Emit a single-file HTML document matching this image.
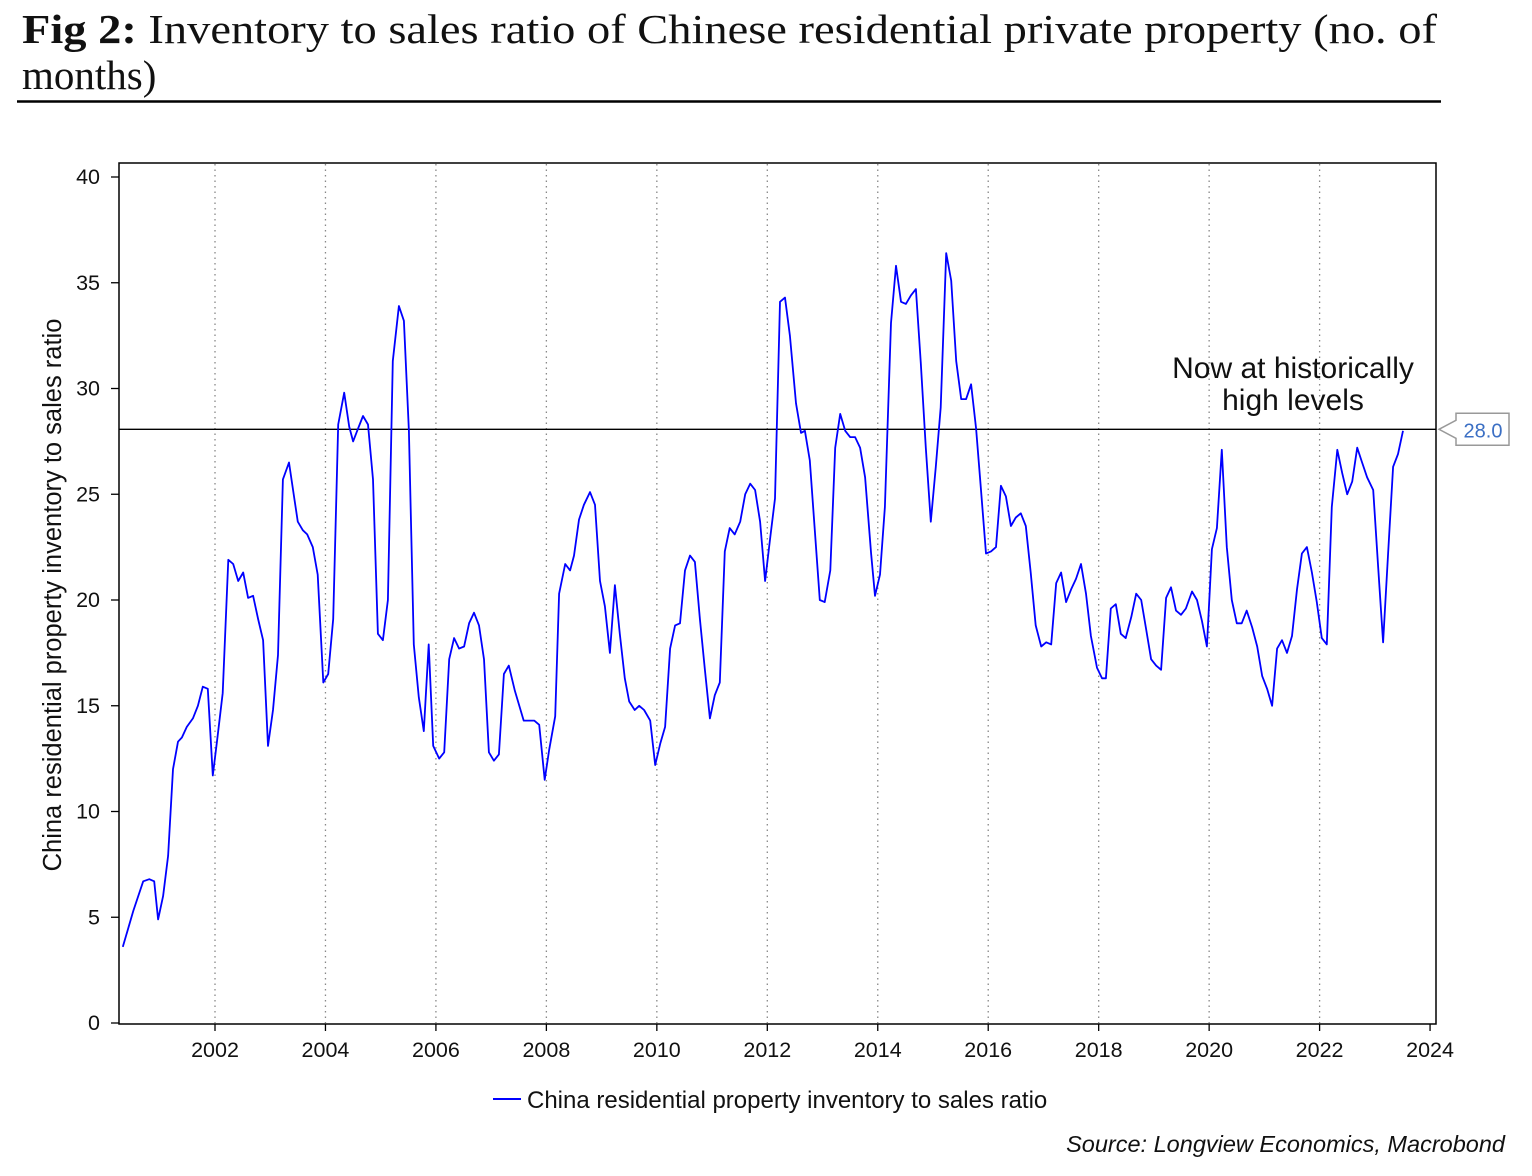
<!DOCTYPE html>
<html><head><meta charset="utf-8"><style>
html,body{margin:0;padding:0;background:#fff;}
svg{display:block;}
</style></head><body>
<svg id="chart" width="1532" height="1176" viewBox="0 0 1532 1176" xmlns="http://www.w3.org/2000/svg">
<text x="22" y="43" font-family="Liberation Serif, serif" font-size="41" fill="#111" textLength="1415" lengthAdjust="spacingAndGlyphs"><tspan font-weight="bold">Fig 2:</tspan> Inventory to sales ratio of Chinese residential private property (no. of</text>
<text x="22" y="89" font-family="Liberation Serif, serif" font-size="41" fill="#111">months)</text>
<line x1="17" y1="101.5" x2="1441" y2="101.5" stroke="#000" stroke-width="2.5"/>
<g id="grid"></g>
<rect x="119" y="163" width="1317" height="861" fill="none" stroke="#000" stroke-width="1.5"/>
<g id="axes"></g>
<line id="refline" stroke="#000" stroke-width="1.3"/>
<path id="series" fill="none" stroke="#0000ff" stroke-width="1.8" stroke-linejoin="round"/>
<text x="1293" y="378" text-anchor="middle" font-family="Liberation Sans, sans-serif" font-size="30" fill="#111">Now at historically</text>
<text x="1293" y="410" text-anchor="middle" font-family="Liberation Sans, sans-serif" font-size="30" fill="#111">high levels</text>
<g id="lastlabel"></g>
<text transform="translate(61,595) rotate(-90)" text-anchor="middle" font-family="Liberation Sans, sans-serif" font-size="25.5" fill="#111">China residential property inventory to sales ratio</text>
<line x1="493" y1="1099" x2="521" y2="1099" stroke="#0000ff" stroke-width="2"/>
<text x="527" y="1108" font-family="Liberation Sans, sans-serif" font-size="24" fill="#111">China residential property inventory to sales ratio</text>
<text x="1505" y="1152" text-anchor="end" font-family="Liberation Sans, sans-serif" font-size="23.5" font-style="italic" fill="#111">Source: Longview Economics, Macrobond</text>
</svg>
<script>
const dates=[2000.33,2000.52,2000.70,2000.81,2000.90,2000.97,2001.06,2001.15,2001.24,2001.33,2001.40,2001.49,2001.60,2001.69,2001.78,2001.87,2001.96,2002.04,2002.14,2002.24,2002.33,2002.42,2002.51,2002.60,2002.69,2002.78,2002.87,2002.96,2003.05,2003.14,2003.23,2003.34,2003.43,2003.50,2003.59,2003.67,2003.77,2003.86,2003.96,2004.05,2004.14,2004.23,2004.34,2004.43,2004.50,2004.59,2004.68,2004.77,2004.86,2004.95,2005.04,2005.13,2005.22,2005.33,2005.42,2005.51,2005.60,2005.69,2005.78,2005.87,2005.95,2006.06,2006.15,2006.24,2006.33,2006.42,2006.51,2006.60,2006.69,2006.78,2006.87,2006.96,2007.05,2007.14,2007.23,2007.32,2007.43,2007.59,2007.78,2007.87,2007.97,2008.05,2008.16,2008.23,2008.34,2008.43,2008.50,2008.59,2008.68,2008.79,2008.88,2008.97,2009.06,2009.15,2009.24,2009.33,2009.42,2009.50,2009.60,2009.68,2009.77,2009.88,2009.97,2010.06,2010.15,2010.24,2010.33,2010.42,2010.51,2010.60,2010.69,2010.78,2010.87,2010.96,2011.05,2011.14,2011.23,2011.32,2011.41,2011.51,2011.60,2011.69,2011.78,2011.87,2011.96,2012.05,2012.14,2012.23,2012.32,2012.41,2012.52,2012.61,2012.68,2012.77,2012.86,2012.95,2013.04,2013.14,2013.23,2013.32,2013.41,2013.50,2013.59,2013.68,2013.77,2013.88,2013.95,2014.04,2014.13,2014.24,2014.33,2014.42,2014.51,2014.60,2014.69,2014.78,2014.87,2014.96,2015.05,2015.14,2015.24,2015.33,2015.42,2015.51,2015.60,2015.69,2015.78,2015.87,2015.96,2016.05,2016.14,2016.23,2016.32,2016.41,2016.50,2016.59,2016.68,2016.77,2016.86,2016.96,2017.05,2017.14,2017.23,2017.32,2017.41,2017.50,2017.59,2017.68,2017.77,2017.86,2017.97,2018.06,2018.13,2018.22,2018.31,2018.40,2018.49,2018.59,2018.68,2018.77,2018.86,2018.95,2019.04,2019.13,2019.22,2019.31,2019.40,2019.49,2019.58,2019.69,2019.78,2019.87,2019.96,2020.05,2020.14,2020.23,2020.32,2020.41,2020.50,2020.59,2020.68,2020.78,2020.87,2020.96,2021.05,2021.14,2021.23,2021.32,2021.41,2021.50,2021.59,2021.68,2021.77,2021.86,2021.95,2022.04,2022.13,2022.22,2022.32,2022.41,2022.50,2022.59,2022.68,2022.77,2022.86,2022.97,2023.06,2023.15,2023.24,2023.33,2023.42,2023.51];
const values=[3.6,5.3,6.7,6.8,6.7,4.9,6.0,7.9,12.0,13.3,13.5,14.0,14.4,15.0,15.9,15.8,11.7,13.4,15.6,21.9,21.7,20.9,21.3,20.1,20.2,19.1,18.1,13.1,14.8,17.4,25.7,26.5,24.9,23.7,23.3,23.1,22.5,21.2,16.1,16.5,19.1,28.3,29.8,28.2,27.5,28.1,28.7,28.3,25.7,18.4,18.1,20.0,31.3,33.9,33.2,28.0,17.9,15.4,13.8,17.9,13.1,12.5,12.8,17.2,18.2,17.7,17.8,18.9,19.4,18.8,17.2,12.8,12.4,12.7,16.5,16.9,15.7,14.3,14.3,14.1,11.5,12.9,14.5,20.3,21.7,21.4,22.1,23.8,24.5,25.1,24.5,20.9,19.7,17.5,20.7,18.4,16.3,15.2,14.8,15.0,14.8,14.3,12.2,13.2,14.0,17.7,18.8,18.9,21.4,22.1,21.8,19.1,16.7,14.4,15.5,16.1,22.3,23.4,23.1,23.7,25.0,25.5,25.2,23.7,20.9,22.9,24.8,34.1,34.3,32.5,29.3,27.9,28.0,26.6,23.3,20.0,19.9,21.4,27.2,28.8,28.0,27.7,27.7,27.2,25.8,22.2,20.2,21.2,24.4,33.1,35.8,34.1,34.0,34.4,34.7,31.2,27.2,23.7,26.3,29.1,36.4,35.1,31.3,29.5,29.5,30.2,28.1,25.2,22.2,22.3,22.5,25.4,24.9,23.5,23.9,24.1,23.5,21.3,18.8,17.8,18.0,17.9,20.8,21.3,19.9,20.5,21.0,21.7,20.3,18.3,16.8,16.3,16.3,19.6,19.8,18.4,18.2,19.2,20.3,20.0,18.6,17.2,16.9,16.7,20.1,20.6,19.5,19.3,19.6,20.4,20.0,19.0,17.8,22.4,23.4,27.1,22.5,20.0,18.9,18.9,19.5,18.7,17.8,16.4,15.8,15.0,17.7,18.1,17.5,18.3,20.5,22.2,22.5,21.3,19.9,18.2,17.9,24.4,27.1,26.0,25.0,25.6,27.2,26.5,25.8,25.2,21.6,18.0,22.2,26.3,26.9,28.0];
const yTicks=[0,5,10,15,20,25,30,35,40];
const xTicks=[2002,2004,2006,2008,2010,2012,2014,2016,2018,2020,2022,2024];
const refValue=[28.0];

const NS='http://www.w3.org/2000/svg';
function X(t){return 215+(t-2002)*55.23;}
function Y(v){return 1023-v*21.15;}
function mk(tag,attrs,parent){const e=document.createElementNS(NS,tag);for(const k in attrs)e.setAttribute(k,attrs[k]);parent.appendChild(e);return e;}
const grid=document.getElementById('grid'),axes=document.getElementById('axes');
xTicks.forEach(t=>{
  const x=X(t);
  if(t<2024){const g=mk('line',{x1:x,y1:164,x2:x,y2:1023,stroke:'#888','stroke-width':1.3,'stroke-dasharray':'1.5 4'},grid);
  
  }
  const tk=mk('line',{x1:x,y1:1024,x2:x,y2:1031,stroke:'#000','stroke-width':1.3},axes);
  
  
  const lb=mk('text',{x:x,y:1057,'text-anchor':'middle','font-family':'Liberation Sans, sans-serif','font-size':21.5,fill:'#111'},axes);
  lb.textContent=t;
  
  
});
yTicks.forEach(v=>{
  const y=Y(v);
  const tk=mk('line',{x1:111,y1:y,x2:119,y2:y,stroke:'#000','stroke-width':1.3},axes);
  
  
  const lb=mk('text',{x:100,y:y+7,'text-anchor':'end','font-family':'Liberation Sans, sans-serif','font-size':21.5,fill:'#111'},axes);
  lb.textContent=v;
  
  
});
const ry=Y(refValue[0])-1.5;
const rl=document.getElementById('refline');
rl.setAttribute('x1',119);rl.setAttribute('x2',1436);rl.setAttribute('y1',ry);rl.setAttribute('y2',ry);
let d='';
dates.forEach((t,i)=>{d+=(i?'L':'M')+X(t).toFixed(1)+' '+Y(values[i]).toFixed(1);});
document.getElementById('series').setAttribute('d',d);
const ll=document.getElementById('lastlabel');
const lastV=values[values.length-1];
const ly=Y(lastV)-1.5;
const box=mk('path',{d:`M1439 ${ly} L1456 ${ly-9} L1456 ${ly-16} L1509 ${ly-16} L1509 ${ly+16} L1456 ${ly+16} L1456 ${ly+9} Z`,fill:'#fff',stroke:'#999','stroke-width':1.5},ll);


const lt=mk('text',{x:1483,y:ly+8,'text-anchor':'middle','font-family':'Liberation Sans, sans-serif','font-size':20,fill:'#3b6fc4'},ll);
lt.textContent=lastV.toFixed(1);


</script>
</body></html>
